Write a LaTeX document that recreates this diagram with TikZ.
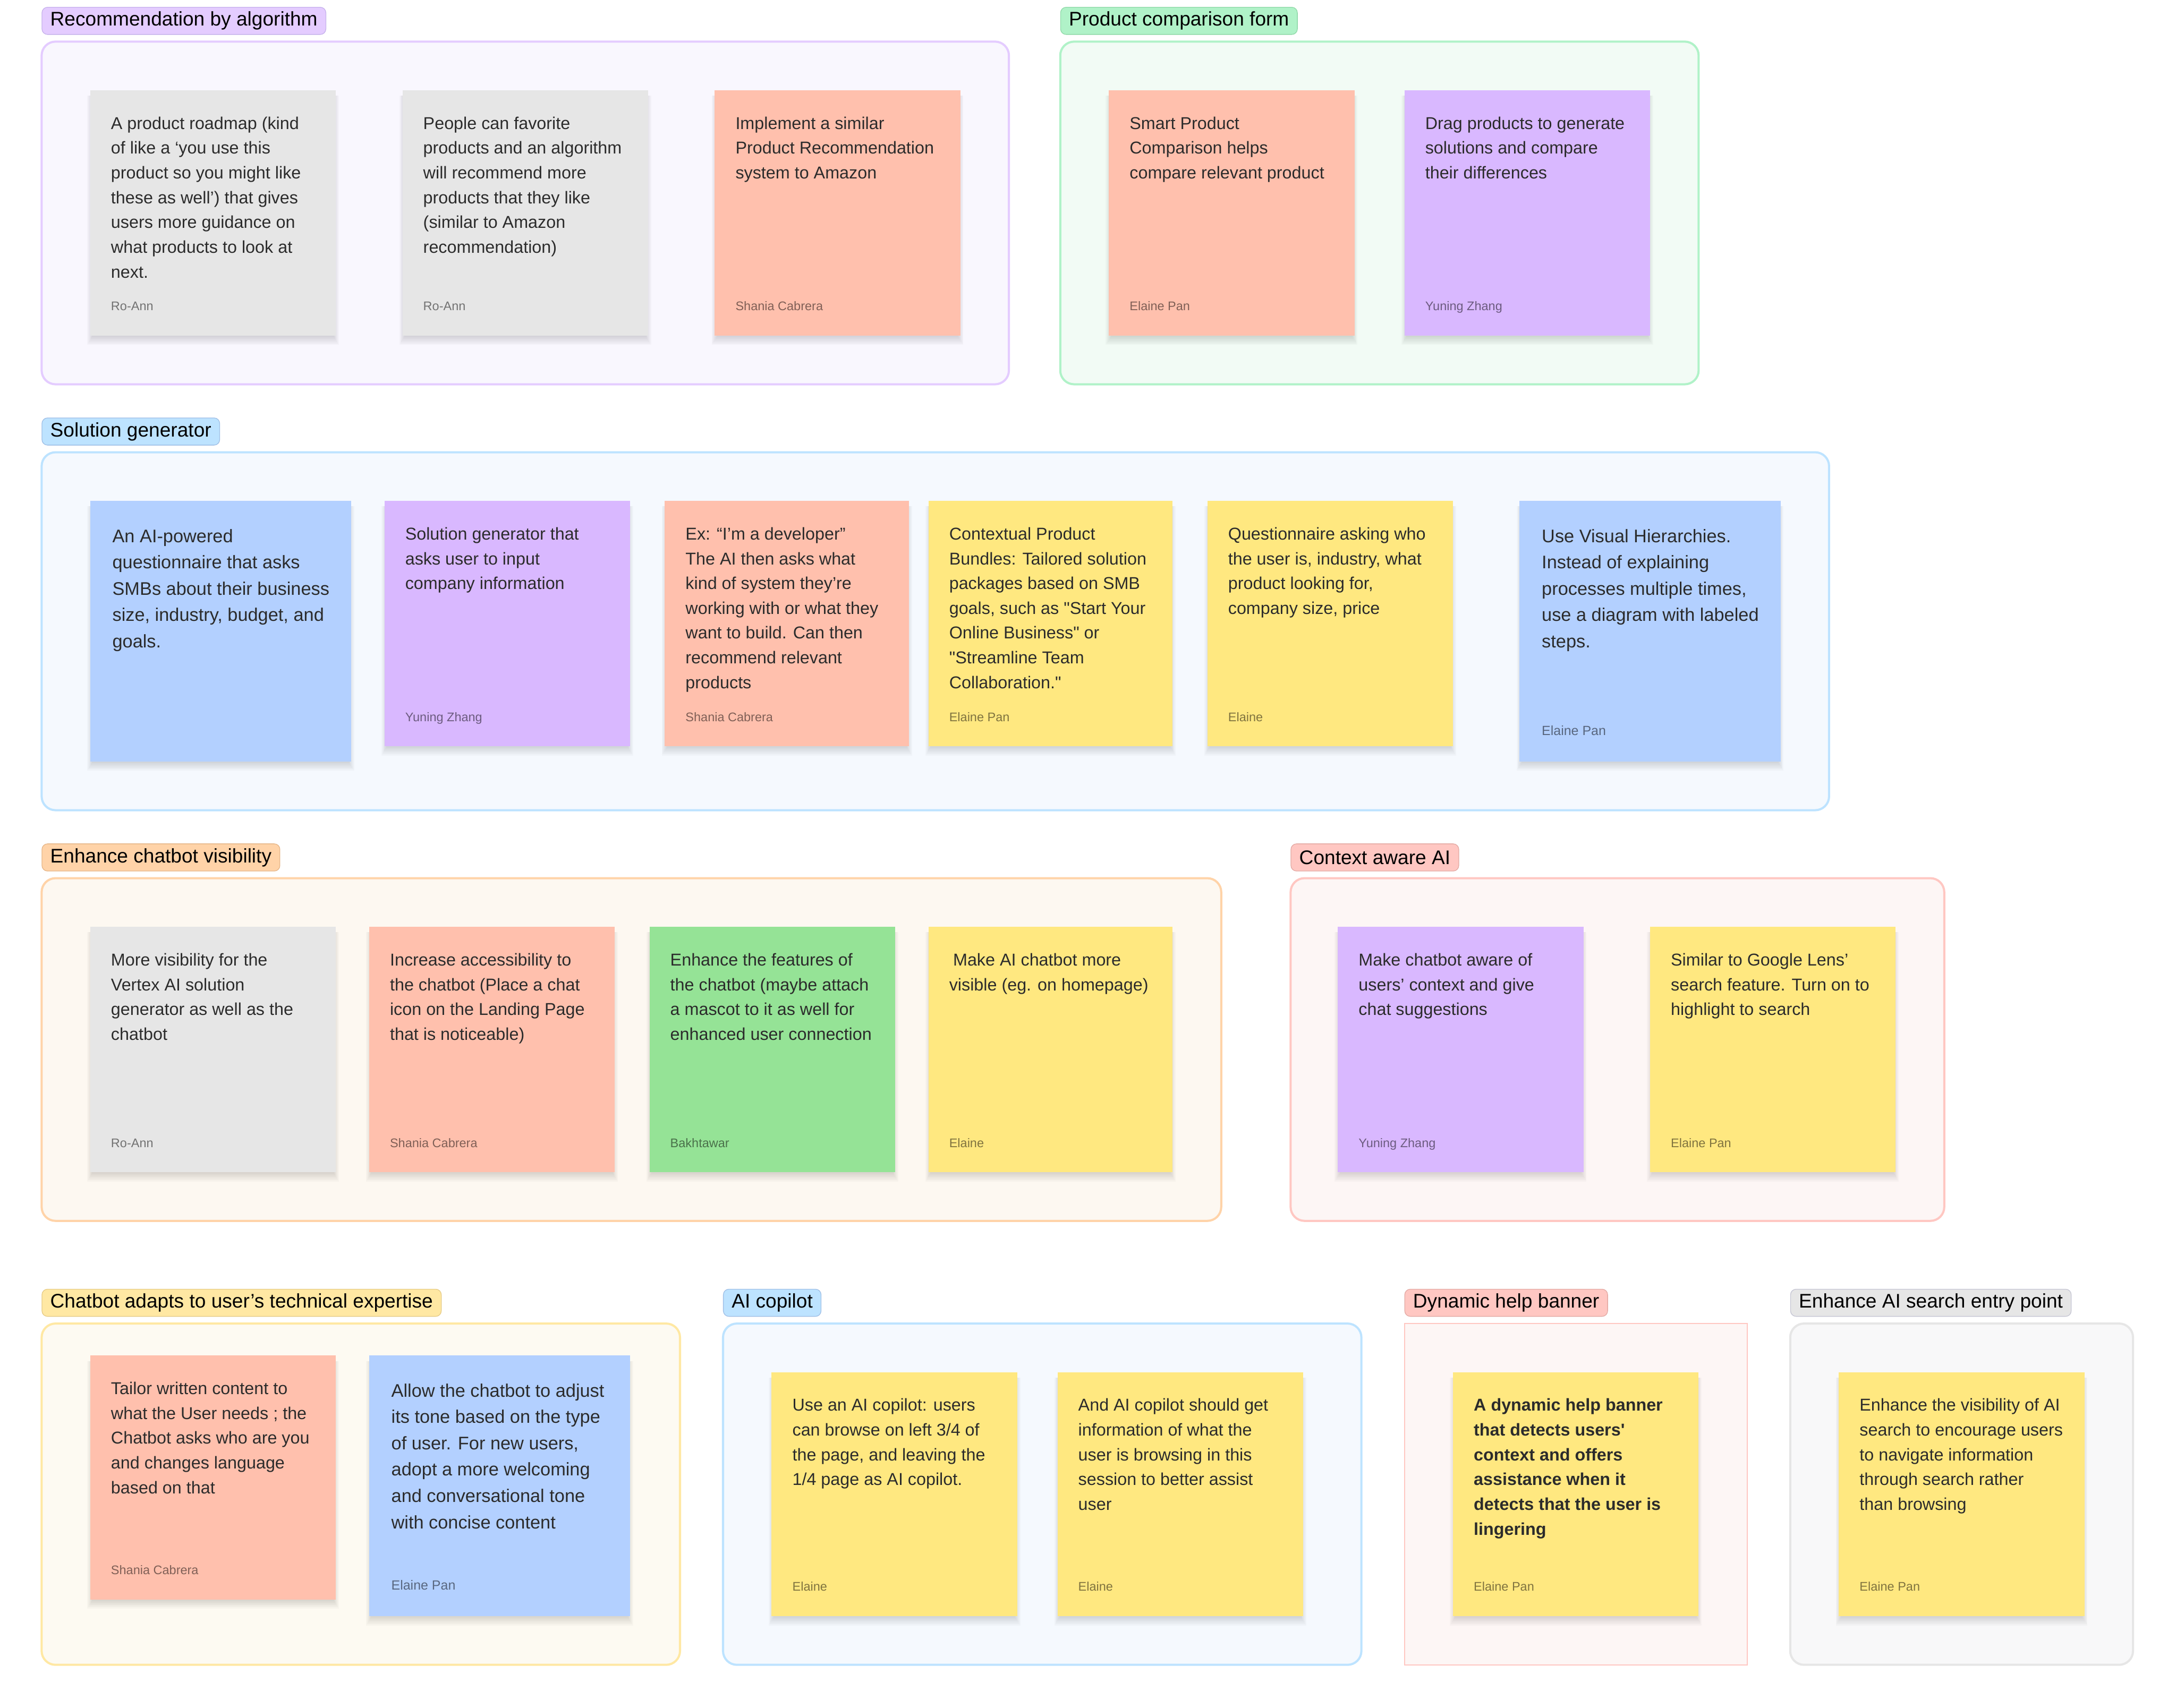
\documentclass[tikz,border=0pt]{standalone}
\usepackage{fontspec}
\setmainfont{Liberation Sans}[Ligatures=TeXOff]
\usetikzlibrary{fit}
\definecolor{cGray}{HTML}{E6E6E6}
\definecolor{cSal}{HTML}{FFC0AD}
\definecolor{cPur}{HTML}{D9B8FF}
\definecolor{cBlu}{HTML}{B3D0FF}
\definecolor{cYel}{HTML}{FFE880}
\definecolor{cGrn}{HTML}{95E396}
\definecolor{cTxt}{HTML}{2B2B2B}
% frames: border / fill / label border
\definecolor{bPur}{HTML}{E4CCFF}\definecolor{fPur}{HTML}{F9F7FE}\definecolor{dPur}{HTML}{C6B2EC}
\definecolor{bGrn}{HTML}{B0F2C8}\definecolor{fGrn}{HTML}{F2FBF5}\definecolor{dGrn}{HTML}{8FD9A8}
\definecolor{bBlu}{HTML}{BDE3FF}\definecolor{fBlu}{HTML}{F5F9FE}\definecolor{dBlu}{HTML}{9FBFE6}
\definecolor{bOra}{HTML}{FFD3A8}\definecolor{fOra}{HTML}{FDF8F1}\definecolor{dOra}{HTML}{E6B688}
\definecolor{bRed}{HTML}{FFC7C2}\definecolor{fRed}{HTML}{FDF6F5}\definecolor{dRed}{HTML}{E3A9A3}
\definecolor{bYel}{HTML}{FFE8A3}\definecolor{fYel}{HTML}{FDFAF2}\definecolor{dYel}{HTML}{E6CB85}
\definecolor{bGry}{HTML}{E6E6E6}\definecolor{fGry}{HTML}{F8F8F9}\definecolor{dGry}{HTML}{C5C5D3}
\tikzset{
  frm/.style={inner sep=0pt, line width=1.1pt, rounded corners=2.5mm},
  lab/.style={anchor=north west, inner xsep=1.5mm, inner ysep=0pt, minimum height=4.9mm,
    rounded corners=1mm, line width=0.35pt, text=black,
    font=\fontsize{10.1pt}{12pt}\selectfont},
  stk/.style={inner sep=0pt, draw=none},
  shd/.style={fill=black, opacity=0.025},
  txtS/.style={anchor=north west, inner sep=0pt, align=left, text=cTxt,
    xshift=3.75mm, yshift=-3.9mm, font=\fontsize{8.8pt}{12.7pt}\selectfont},
  txtX/.style={txtS, font=\fontsize{8.8pt}{12.7pt}\selectfont\bfseries},
  txtB/.style={anchor=north west, inner sep=0pt, align=left, text=cTxt,
    xshift=4mm, yshift=-4.15mm, font=\fontsize{9.35pt}{13.5pt}\selectfont},
  authS/.style={anchor=base west, inner sep=0pt, text=black, text opacity=0.5,
    xshift=3.75mm, yshift=4.6mm, font=\fontsize{6.4pt}{8pt}\selectfont},
  authX/.style={authS},
  authB/.style={anchor=base west, inner sep=0pt, text=black, text opacity=0.5,
    xshift=4mm, yshift=4.8mm, font=\fontsize{6.8pt}{8.5pt}\selectfont},
}
% name, x1, y1, x2, y2, colour, size (S/B/X), text, author
\newcommand\stk[9]{%
  \foreach \k in {1,...,6}{\fill[shd] ({#2+2-0.7*\k},{#3+4}) rectangle ({#4-2+0.7*\k},{#5+1.1*\k});}
  \node[stk, fill=#6, fit={(#2,#3) (#4,#5)}] (#1) {};
  \node[txt#7] (#1t) at (#1.north west) {\strut #8};
  \node[auth#7] (#1a) at (#1.south west) {#9};
}
\begin{document}
\begin{tikzpicture}[x=0.25mm, y=-0.25mm]
\useasboundingbox (0,0) rectangle (1568,1231);
\fill[white] (0,0) rectangle (1568,1231);

% ---- frames
\node[frm, draw=bPur, fill=fPur, fit={(30,30) (727,277)}] (F1) {};
\node[frm, draw=bGrn, fill=fGrn, fit={(764,30) (1224,277)}] (F2) {};
\node[frm, draw=bBlu, fill=fBlu, fit={(30,326) (1318,584)}] (F3) {};
\node[frm, draw=bOra, fill=fOra, fit={(30,633) (880,880)}] (F4) {};
\node[frm, draw=bRed, fill=fRed, fit={(930,633) (1401,880)}] (F5) {};
\node[frm, draw=bYel, fill=fYel, fit={(30,954) (490,1200)}] (F6) {};
\node[frm, draw=bBlu, fill=fBlu, fit={(521,954) (981,1200)}] (F7) {};
\node[inner sep=0pt, line width=0.5pt, draw=bRed, fill=fRed, fit={(1012,954) (1259,1200)}] (F8) {};
\node[frm, draw=bGry, fill=fGry, fit={(1290,954) (1537,1200)}] (F9) {};

% ---- labels
\node[lab, fill=bPur, draw=dPur] (L1) at (30,5) {Recommendation by algorithm};
\node[lab, fill=bGrn, draw=dGrn] (L2) at (764,5) {Product comparison form};
\node[lab, fill=bBlu, draw=dBlu] (L3) at (30,301) {Solution generator};
\node[lab, fill=bOra, draw=dOra] (L4) at (30,608) {Enhance chatbot visibility};
\node[lab, fill=bRed, draw=dRed] (L5) at (930,608) {Context aware AI};
\node[lab, fill=bYel, draw=dYel] (L6) at (30,929) {Chatbot adapts to user’s technical expertise};
\node[lab, fill=bBlu, draw=dBlu] (L7) at (521,929) {AI copilot};
\node[lab, fill=bRed, draw=dRed] (L8) at (1012,929) {Dynamic help banner};
\node[lab, fill=bGry, draw=dGry] (L9) at (1290,929) {Enhance AI search entry point};

% ---- Recommendation by algorithm
\stk{a1}{65}{65}{242}{242}{cGray}{S}{A product roadmap (kind\\of like a ‘you use this\\product so you might like\\these as well’) that gives\\users more guidance on\\what products to look at\\next.}{Ro-Ann}
\stk{a2}{290}{65}{467}{242}{cGray}{S}{People can favorite\\products and an algorithm\\will recommend more\\products that they like\\(similar to Amazon\\recommendation)}{Ro-Ann}
\stk{a3}{515}{65}{692}{242}{cSal}{S}{Implement a similar\\Product Recommendation\\system to Amazon}{Shania Cabrera}

% ---- Product comparison form
\stk{b1}{799}{65}{976}{242}{cSal}{S}{Smart Product\\Comparison helps\\compare relevant product}{Elaine Pan}
\stk{b2}{1012}{65}{1189}{242}{cPur}{S}{Drag products to generate\\solutions and compare\\their differences}{Yuning Zhang}

% ---- Solution generator
\stk{c1}{65}{361}{253}{549}{cBlu}{B}{An AI-powered\\questionnaire that asks\\SMBs about their business\\size, industry, budget, and\\goals.}{}
\stk{c2}{277}{361}{454}{538}{cPur}{S}{Solution generator that\\asks user to input\\company information}{Yuning Zhang}
\stk{c3}{479}{361}{655}{538}{cSal}{S}{Ex: “I’m a developer”\\The AI then asks what\\kind of system they’re\\working with or what they\\want to build. Can then\\recommend relevant\\products}{Shania Cabrera}
\stk{c4}{669}{361}{845}{538}{cYel}{S}{Contextual Product\\Bundles: Tailored solution\\packages based on SMB\\goals, such as "Start Your\\Online Business" or\\"Streamline Team\\Collaboration."}{Elaine Pan}
\stk{c5}{870}{361}{1047}{538}{cYel}{S}{Questionnaire asking who\\the user is, industry, what\\product looking for,\\company size, price}{Elaine}
\stk{c6}{1095}{361}{1283}{549}{cBlu}{B}{Use Visual Hierarchies.\\Instead of explaining\\processes multiple times,\\use a diagram with labeled\\steps.}{Elaine Pan}

% ---- Enhance chatbot visibility
\stk{d1}{65}{668}{242}{845}{cGray}{S}{More visibility for the\\Vertex AI solution\\generator as well as the\\chatbot}{Ro-Ann}
\stk{d2}{266}{668}{443}{845}{cSal}{S}{Increase accessibility to\\the chatbot (Place a chat\\icon on the Landing Page\\that is noticeable)}{Shania Cabrera}
\stk{d3}{468}{668}{645}{845}{cGrn}{S}{Enhance the features of\\the chatbot (maybe attach\\a mascot to it as well for\\enhanced user connection}{Bakhtawar}
\stk{d4}{669}{668}{845}{845}{cYel}{S}{\hspace{0.7mm}Make AI chatbot more\\visible (eg. on homepage)}{Elaine}

% ---- Context aware AI
\stk{e1}{964}{668}{1141}{845}{cPur}{S}{Make chatbot aware of\\users’ context and give\\chat suggestions}{Yuning Zhang}
\stk{e2}{1189}{668}{1366}{845}{cYel}{S}{Similar to Google Lens’\\search feature. Turn on to\\highlight to search}{Elaine Pan}

% ---- Chatbot adapts
\stk{f1}{65}{977}{242}{1153}{cSal}{S}{Tailor written content to\\what the User needs ; the\\Chatbot asks who are you\\and changes language\\based on that}{Shania Cabrera}
\stk{f2}{266}{977}{454}{1165}{cBlu}{B}{Allow the chatbot to adjust\\its tone based on the type\\of user. For new users,\\adopt a more welcoming\\and conversational tone\\with concise content}{Elaine Pan}

% ---- AI copilot
\stk{g1}{556}{989}{733}{1165}{cYel}{S}{Use an AI copilot: users\\can browse on left 3/4 of\\the page, and leaving the\\1/4 page as AI copilot.}{Elaine}
\stk{g2}{762}{989}{939}{1165}{cYel}{S}{And AI copilot should get\\information of what the\\user is browsing in this\\session to better assist\\user}{Elaine}

% ---- Dynamic help banner
\stk{h1}{1047}{989}{1224}{1165}{cYel}{X}{A dynamic help banner\\that detects users'\\context and offers\\assistance when it\\detects that the user is\\lingering}{Elaine Pan}

% ---- Enhance AI search entry point
\stk{i1}{1325}{989}{1502}{1165}{cYel}{S}{Enhance the visibility of AI\\search to encourage users\\to navigate information\\through search rather\\than browsing}{Elaine Pan}
\end{tikzpicture}
\end{document}
